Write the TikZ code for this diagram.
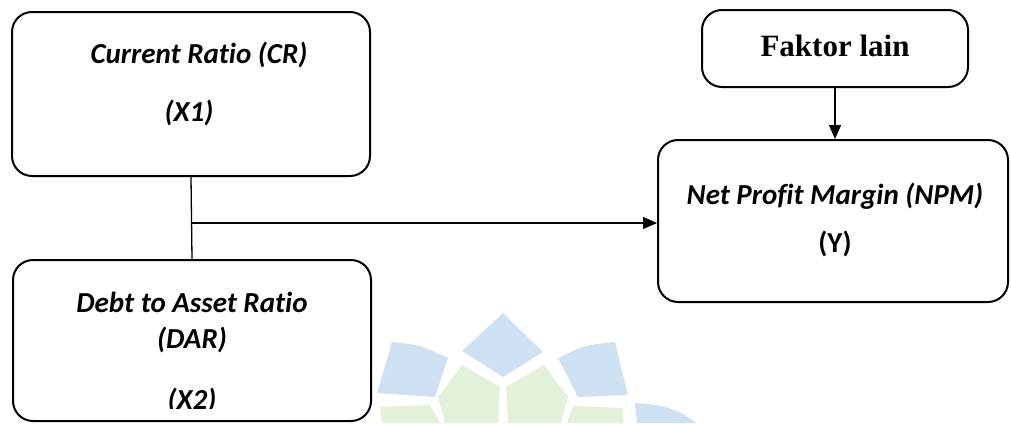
\documentclass[tikz,border=0pt]{standalone}
\usepackage{fontspec}
\setmainfont{Carlito}[Ligatures=NoCommon]
\newfontfamily\timesfont{Liberation Serif}
\usetikzlibrary{arrows.meta}
\definecolor{wmblue}{HTML}{CDE1F2}
\definecolor{wmgreen}{HTML}{E3F0DA}
\tikzset{
  box/.style={draw=black, line width=2pt, rounded corners=20pt, minimum width=#1, inner sep=0pt},
  lbl/.style={font=\fontsize{29}{34}\selectfont\bfseries\itshape, inner sep=0pt, anchor=center},
  conn/.style={line width=1.3pt, draw=black},
  arr/.style={conn, -{Triangle[length=14pt,width=12pt]}},
  wb/.style={fill=wmblue, draw=none},
  wg/.style={fill=wmgreen, draw=none},
}
\begin{document}
\begin{tikzpicture}[x=1pt,y=-1pt]
\useasboundingbox (0,0) rectangle (1011,423);
% watermark
\fill[wb] (503,313) -- (543,352) -- (503,377) -- (462,351) -- cycle;
\fill[wb] (392,342) .. controls (420,345) .. (448,358) -- (435,397) -- (377,393) -- cycle;
\fill[wb] (558,358) .. controls (585,345) .. (615,342) -- (628,395) -- (578,397) -- cycle;
\fill[wg] (462,365) -- (500,387) -- (498,423) -- (445,423) -- (438,397) -- cycle;
\fill[wg] (544,365) -- (506,387) -- (508,423) -- (561,423) -- (568,397) -- cycle;
\fill[wg] (380,407) -- (430,405) -- (440,423) -- (382,423) -- cycle;
\fill[wg] (573,406) -- (623,408) -- (623,423) -- (567,423) -- cycle;
\fill[wb] (635,403) .. controls (660,405) .. (680,412) -- (697,423) -- (637,423) -- cycle;
% boxes
\node[box=358pt, minimum height=164pt] (CR) at (191,94) {};
\node[box=358pt, minimum height=161pt] (DAR) at (192,340.5) {};
\node[box=266pt, minimum height=77pt] (FL) at (835,48.5) {};
\node[box=350pt, minimum height=162pt] (NPM) at (833,221) {};
% texts
\node[lbl] (tcr) at (199,55) {Current Ratio (CR)};
\node[lbl] (tx1) at (189,113) {(X1)};
\node[lbl] (tdar) at (192,302) {Debt to Asset Ratio};
\node[lbl] (tdar2) at (192,340) {(DAR)};
\begin{scope}
  \clip (100,370) rectangle (300,408);
  \node[lbl] (tx2) at (192,401) {(X2)};
\end{scope}
\node[lbl] (tnpm) at (835,196) {Net Profit Margin (NPM)};
\node[font=\fontsize{29}{34}\selectfont\bfseries, inner sep=0pt] (ty) at (835,244) {(Y)};
\node[font=\timesfont\fontsize{31}{36}\selectfont\bfseries, inner sep=0pt] (tfl) at (835,46) {Faktor lain};
% connectors
\coordinate (j) at (191.5,223);
\draw[conn] (CR.south) -- (DAR.north);
\draw[arr] (j) -- (j -| NPM.west);
\draw[arr] (FL.south) -- (FL.south |- NPM.north);
\end{tikzpicture}
\end{document}
